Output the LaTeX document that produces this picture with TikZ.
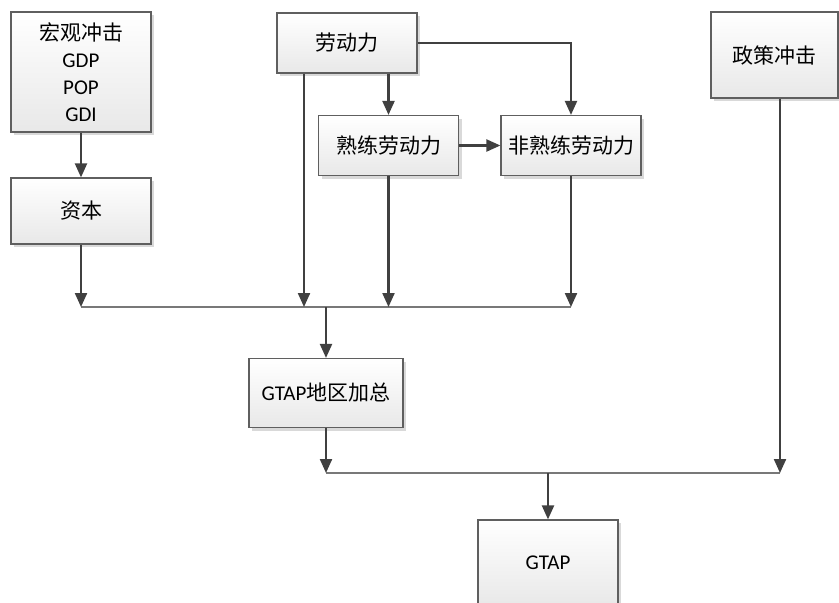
\documentclass[tikz,border=0pt]{standalone}
\usepackage{fontspec}
\setmainfont{Carlito}
\newfontfamily\cjk{Noto Sans CJK SC}
\usetikzlibrary{arrows.meta,shadows,calc}
\definecolor{edge}{RGB}{64,64,64}
\definecolor{frame}{RGB}{95,95,95}
\definecolor{busline}{RGB}{120,120,120}
\tikzset{
  blk/.style={draw=frame,line width=1.2pt,top color=white,bottom color=black!9,align=center,inner sep=2pt,font=\fontsize{21}{27}\selectfont,drop shadow={shadow xshift=3pt,shadow yshift=-3pt,fill=black!15,opacity=1}},
  arr/.style={edge,line width=2.2pt,-{Triangle[length=14pt,width=12pt]}},
  bus/.style={busline,line width=1.8pt}
}
\begin{document}
\begin{tikzpicture}[x=1pt,y=-1pt]
\useasboundingbox (0,0) rectangle (839,603);
% boxes
\node[blk,minimum width=140pt,minimum height=120pt] (macro) at (81,72) {{\cjk 宏观冲击}\\GDP\\POP\\GDI};
\node[blk,minimum width=140pt,minimum height=66pt] (capital) at (81,211) {\cjk 资本};
\node[blk,minimum width=140pt,minimum height=60pt] (labor) at (347,43) {\cjk 劳动力};
\node[blk,minimum width=140pt,minimum height=60pt] (skilled) at (388.5,145.5) {\cjk 熟练劳动力};
\node[blk,minimum width=140pt,minimum height=60pt] (unskilled) at (571,145.5) {\cjk 非熟练劳动力};
\node[blk,minimum width=127pt,minimum height=86pt] (policy) at (774.5,55) {\cjk 政策冲击};
\node[blk,minimum width=154pt,minimum height=69pt] (agg) at (326,393) {GTAP{\cjk 地区加总}};
\node[blk,minimum width=140pt,minimum height=86pt] (gtap) at (548,563) {GTAP};
% bus lines
\coordinate (b1) at (0,307);
\coordinate (b2) at (0,473);
\coordinate (lx) at (304,0);
\draw[bus] (capital.south |- b1) -- (unskilled.south |- b1);
\draw[bus] (agg.south |- b2) -- ([xshift=5.5pt]policy.south |- b2);
% arrows
\draw[arr] (macro) -- (capital);
\draw[arr] (capital.south) -- (capital.south |- b1);
\draw[arr] (labor.south -| lx) -- (lx |- b1);
\draw[arr] (skilled.north |- labor.south) -- (skilled.north);
\draw[arr] (labor.east) -| (unskilled.north);
\draw[arr] (skilled) -- (unskilled);
\draw[arr] (skilled.south) -- (skilled.south |- b1);
\draw[arr] (unskilled.south) -- (unskilled.south |- b1);
\draw[arr] (agg.north |- b1) -- (agg.north);
\draw[arr] (agg.south) -- (agg.south |- b2);
\draw[arr] ([xshift=5.5pt]policy.south) -- ([xshift=5.5pt]policy.south |- b2);
\draw[arr] (gtap.north |- b2) -- (gtap.north);
\end{tikzpicture}
\end{document}
